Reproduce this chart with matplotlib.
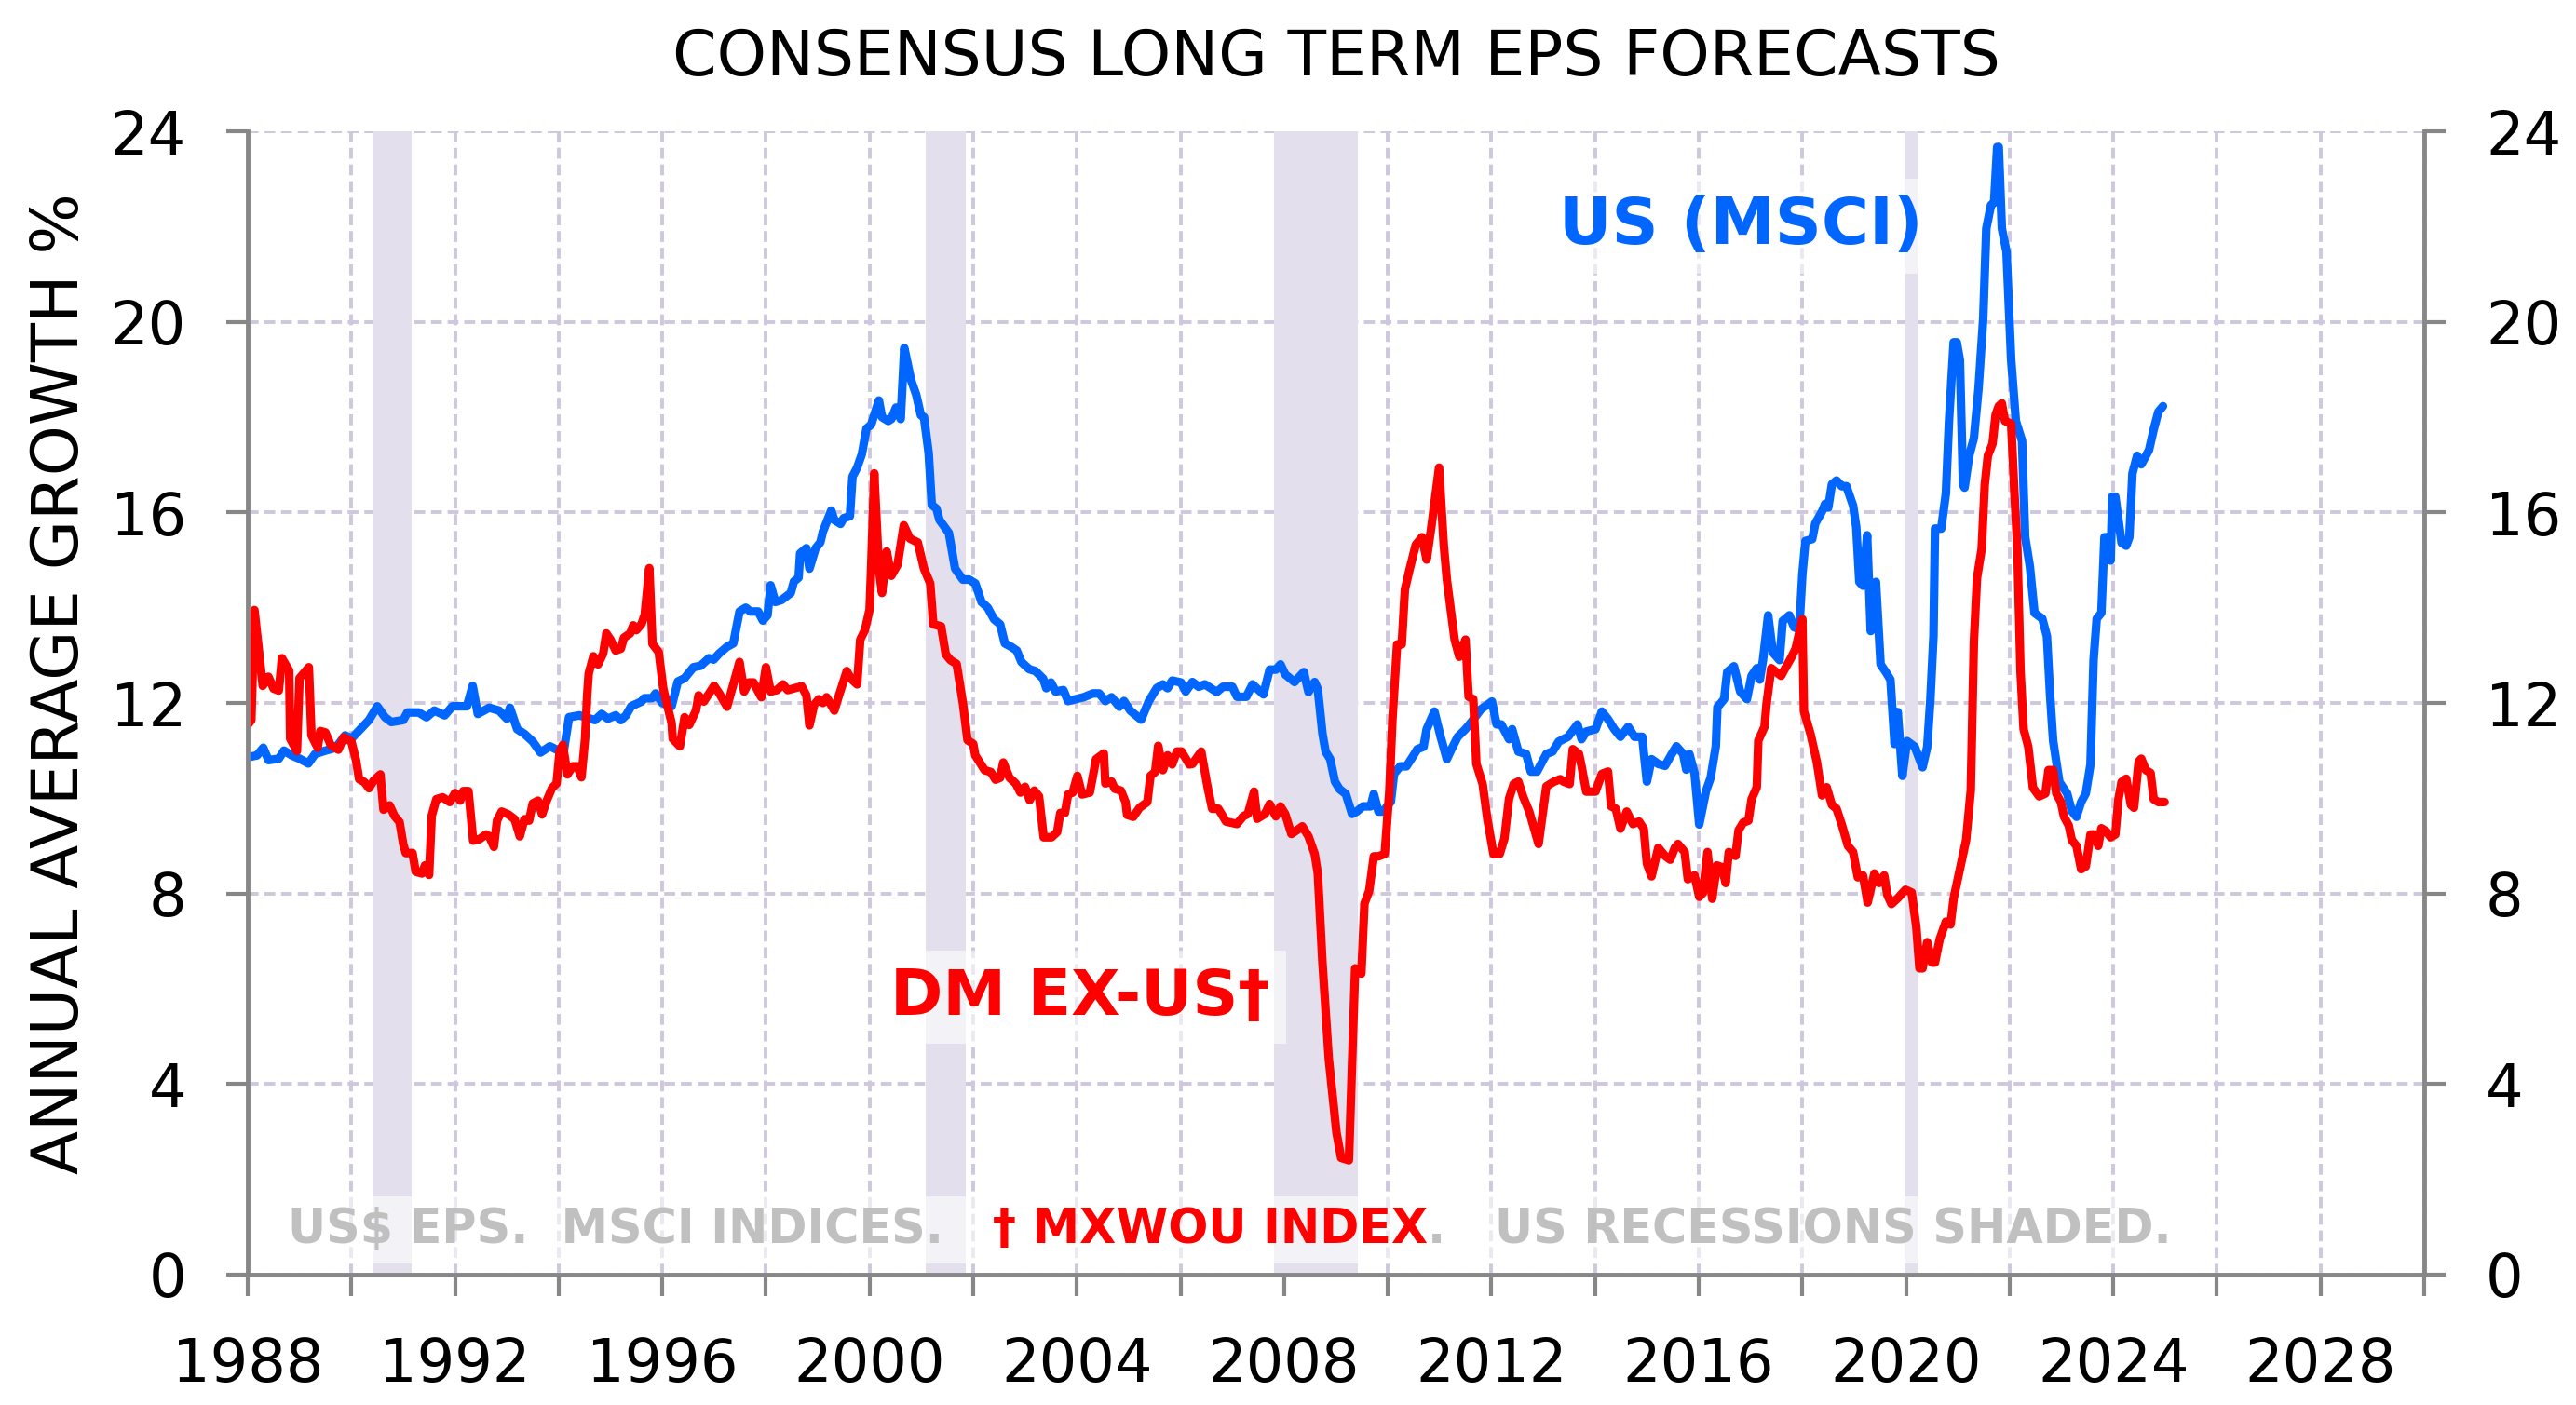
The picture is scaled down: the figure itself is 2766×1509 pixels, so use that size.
import matplotlib
matplotlib.use("Agg")
import matplotlib.pyplot as plt
from matplotlib.patches import Rectangle
from matplotlib.transforms import Bbox

plt.rcParams['font.family'] = ['DejaVu Sans']

# ---------------- data (decimal year, % growth) ----------------
us_year = [1988.0, 1988.18, 1988.3, 1988.4, 1988.6, 1988.7, 1988.85, 1989.0, 1989.17, 1989.3, 1989.5, 1989.7,
           1989.88, 1990.0, 1990.34, 1990.5, 1990.65, 1990.77, 1991.0, 1991.08, 1991.3, 1991.45, 1991.6, 1991.8,
           1991.95, 1992.23, 1992.34, 1992.44, 1992.66, 1992.85, 1993.0, 1993.06, 1993.2, 1993.34, 1993.5, 1993.65,
           1993.83, 1994.0, 1994.1, 1994.2, 1994.4, 1994.7, 1994.83, 1994.95, 1995.1, 1995.2, 1995.3, 1995.4,
           1995.6, 1995.65, 1995.8, 1995.87, 1996.0, 1996.18, 1996.3, 1996.43, 1996.6, 1996.74, 1996.9, 1996.99,
           1997.1,
           1997.25, 1997.37, 1997.49, 1997.61, 1997.7, 1997.85, 1997.94, 1998.03, 1998.09, 1998.18, 1998.3, 1998.48,
           1998.54, 1998.63, 1998.66, 1998.78, 1998.84, 1998.96, 1999.05, 1999.1, 1999.26, 1999.32, 1999.44, 1999.5,
           1999.62, 1999.67, 1999.76, 1999.85, 1999.94, 2000.03, 2000.18, 2000.24, 2000.36, 2000.42, 2000.51, 2000.6,
           2000.67, 2000.8, 2000.9, 2000.99, 2001.05, 2001.14, 2001.2, 2001.29, 2001.35, 2001.53, 2001.65, 2001.8,
           2001.92, 2002.04, 2002.16, 2002.28, 2002.4, 2002.52, 2002.61, 2002.73, 2002.84, 2002.93, 2003.08, 2003.2,
           2003.35, 2003.41, 2003.5, 2003.59, 2003.74, 2003.83, 2004.13, 2004.31, 2004.43, 2004.55, 2004.67, 2004.82,
           2004.91, 2005.03, 2005.24, 2005.39, 2005.54, 2005.66, 2005.75, 2005.84, 2006.01, 2006.1,
           2006.23, 2006.35, 2006.47, 2006.7, 2006.82, 2007.0, 2007.09, 2007.27, 2007.39, 2007.6, 2007.72, 2007.84,
           2007.93, 2008.02, 2008.2, 2008.38, 2008.47, 2008.59, 2008.65, 2008.74, 2008.8, 2008.89, 2008.98, 2009.07,
           2009.19, 2009.31, 2009.4, 2009.52, 2009.67, 2009.73, 2009.82, 2009.91, 2010.06, 2010.12, 2010.24, 2010.36,
           2010.48, 2010.57, 2010.69, 2010.75, 2010.9, 2011.02, 2011.14, 2011.23, 2011.35, 2011.5, 2011.62, 2011.8,
           2012.01, 2012.1, 2012.19, 2012.34, 2012.4, 2012.52, 2012.67, 2012.76, 2012.88, 2013.06, 2013.18, 2013.3,
           2013.48, 2013.66, 2013.74, 2013.83, 2014.01, 2014.13, 2014.25, 2014.37, 2014.49, 2014.64, 2014.76, 2014.91,
           2015.0, 2015.09,
           2015.22, 2015.35, 2015.48, 2015.57, 2015.7, 2015.76, 2015.82, 2015.92, 2016.01, 2016.14, 2016.23, 2016.33,
           2016.36, 2016.49, 2016.55, 2016.68, 2016.8, 2016.93, 2017.02, 2017.12, 2017.18, 2017.24, 2017.34, 2017.43,
           2017.56, 2017.62, 2017.75, 2017.84, 2017.94, 2018.0, 2018.06, 2018.19, 2018.25, 2018.38, 2018.44, 2018.5,
           2018.57, 2018.66, 2018.76, 2018.85, 2018.98, 2019.04, 2019.1, 2019.17, 2019.25, 2019.32, 2019.42, 2019.51,
           2019.61, 2019.7,
           2019.78, 2019.84, 2019.93, 2020.02, 2020.17, 2020.32, 2020.41, 2020.47, 2020.53, 2020.56, 2020.68, 2020.77,
           2020.83, 2020.92, 2020.98, 2021.04, 2021.1, 2021.13, 2021.22, 2021.31, 2021.4, 2021.49, 2021.55, 2021.64,
           2021.7, 2021.76, 2021.79, 2021.85, 2021.94, 2022.03, 2022.12, 2022.24, 2022.3, 2022.39, 2022.48, 2022.63,
           2022.72, 2022.78, 2022.84, 2022.96, 2023.11, 2023.2, 2023.29, 2023.38, 2023.47, 2023.56, 2023.62, 2023.68,
           2023.77, 2023.83, 2023.92, 2023.95, 2023.98, 2024.04, 2024.16, 2024.25, 2024.31, 2024.37, 2024.46, 2024.54,
           2024.69, 2024.78, 2024.87, 2024.96]
us_val = [10.86, 10.9, 11.06, 10.8, 10.83, 11.0, 10.9, 10.83, 10.73, 10.93, 11.0, 11.06,
          11.32, 11.25, 11.64, 11.93, 11.7, 11.6, 11.64, 11.8, 11.8, 11.7, 11.84, 11.74,
          11.93, 11.93, 12.36, 11.77, 11.9, 11.84, 11.67, 11.9, 11.45, 11.35, 11.19, 10.96,
          11.09, 11.0, 11.0, 11.7, 11.74, 11.64, 11.77, 11.67, 11.74, 11.64, 11.74, 11.93,
          12.03, 12.1, 12.1, 12.2, 12.0, 11.93, 12.45, 12.52, 12.75, 12.78, 12.94, 12.91,
          13.04,
          13.18, 13.25, 13.92, 14.0, 13.92, 13.92, 13.73, 13.84, 14.47, 14.12, 14.16, 14.31,
          14.55, 14.63, 15.14, 15.25, 14.82, 15.25, 15.37, 15.6, 16.04, 15.84, 15.76, 15.88,
          15.92, 16.75, 16.94, 17.22, 17.76, 17.84, 18.35, 18.0, 17.92, 17.96, 18.2, 17.96,
          19.45, 18.78, 18.47, 18.04, 18.0, 17.25, 16.16, 16.08, 15.84, 15.57, 14.82, 14.59,
          14.59, 14.51, 14.12, 14.0, 13.76, 13.65, 13.25, 13.18, 13.1, 12.86, 12.71, 12.67,
          12.51, 12.31, 12.43, 12.24, 12.27, 12.04, 12.12, 12.2, 12.2, 12.04, 12.12, 11.92,
          12.04, 11.84, 11.65, 12.04, 12.31, 12.39, 12.31, 12.47, 12.43, 12.24,
          12.44, 12.34, 12.39, 12.23, 12.34, 12.34, 12.13, 12.13, 12.39, 12.18, 12.7, 12.7,
          12.81, 12.6, 12.44, 12.65, 12.23, 12.44, 12.29, 11.35, 10.98, 10.82, 10.35, 10.19,
          10.09, 9.67, 9.72, 9.83, 9.83, 10.09, 9.72, 9.72, 9.93, 10.51, 10.67, 10.67,
          10.87, 11.03, 11.08, 11.45, 11.82, 11.29, 10.82, 11.03, 11.29, 11.45, 11.61, 11.87,
          12.03, 11.55, 11.55, 11.24, 11.45, 10.98, 10.93, 10.56, 10.56, 10.93, 10.98, 11.19,
          11.29, 11.55, 11.24, 11.4, 11.45, 11.82, 11.66, 11.45, 11.29, 11.5, 11.29, 11.29,
          10.35, 10.82,
          10.72, 10.68, 10.93, 11.09, 10.93, 10.6, 10.93, 10.52, 9.45, 10.15, 10.43, 11.09,
          11.91, 12.08, 12.65, 12.77, 12.24, 12.08, 12.57, 12.73, 12.49, 12.9, 13.84, 13.06,
          12.9, 13.72, 13.84, 13.59, 13.55, 14.7, 15.4, 15.44, 15.77, 16.02, 16.18, 16.1,
          16.59, 16.67, 16.55, 16.55, 16.14, 15.69, 14.54, 14.46, 15.52, 13.51, 14.54, 12.81,
          12.65, 12.49,
          11.14, 11.81, 10.47, 11.2, 11.08, 10.65, 11.08, 12.06, 13.4, 15.66, 15.66, 16.4,
          17.92, 19.57, 19.57, 19.2, 16.58, 16.52, 17.19, 17.56, 18.6, 20.06, 21.96, 22.45,
          22.5, 23.67, 23.67, 21.96, 21.47, 19.2, 17.92, 17.5, 15.48, 14.87, 13.89, 13.77,
          13.4, 12.18, 11.2, 10.34, 10.1, 9.73, 9.61, 9.92, 10.1, 10.71, 12.91, 13.77,
          13.89, 15.48, 15.48, 14.99, 16.33, 16.33, 15.36, 15.3, 15.48, 16.82, 17.19, 17.01,
          17.31, 17.74, 18.11, 18.23]

dm_year = [1988.0, 1988.07, 1988.13, 1988.29, 1988.4, 1988.5, 1988.6, 1988.66, 1988.8, 1988.82, 1988.95, 1989.0,
           1989.18, 1989.23, 1989.35, 1989.4, 1989.5, 1989.6, 1989.75, 1989.85, 1990.0, 1990.09, 1990.15, 1990.25,
           1990.34, 1990.43, 1990.56, 1990.62, 1990.74, 1990.83, 1990.93, 1991.0, 1991.05, 1991.18, 1991.24, 1991.36,
           1991.42, 1991.5, 1991.55, 1991.64, 1991.76, 1991.9, 1992.0, 1992.1, 1992.16, 1992.26, 1992.35, 1992.47,
           1992.6, 1992.66, 1992.75, 1992.81, 1992.9, 1993.03, 1993.15, 1993.25, 1993.34, 1993.43, 1993.5, 1993.6,
           1993.68, 1993.77, 1993.87, 1993.96, 1994.02, 1994.08, 1994.17, 1994.27, 1994.36, 1994.44, 1994.51, 1994.55,
           1994.58, 1994.67, 1994.76, 1994.86, 1994.92, 1995.0, 1995.1, 1995.2, 1995.26, 1995.38, 1995.44, 1995.5,
           1995.6, 1995.66, 1995.75, 1995.81, 1995.93, 1996.02, 1996.18, 1996.2, 1996.34, 1996.43, 1996.52, 1996.65,
           1996.7, 1996.8, 1997.0, 1997.1,
           1997.25, 1997.37, 1997.49, 1997.58, 1997.67, 1997.76, 1997.91, 1998.0, 1998.09, 1998.21, 1998.33, 1998.42,
           1998.69, 1998.78, 1998.84, 1998.93, 1999.02, 1999.1, 1999.17, 1999.32, 1999.41, 1999.56, 1999.64, 1999.76,
           1999.82, 1999.91, 2000.0, 2000.03, 2000.09, 2000.18, 2000.24, 2000.33, 2000.42, 2000.54, 2000.66, 2000.78,
           2000.93, 2001.05, 2001.17, 2001.23, 2001.38, 2001.47, 2001.56, 2001.68, 2001.8, 2001.89, 2002.0, 2002.04,
           2002.22, 2002.34, 2002.43, 2002.52, 2002.58, 2002.7, 2002.82, 2002.91, 2003.0, 2003.09, 2003.18, 2003.27,
           2003.36, 2003.51, 2003.62, 2003.68, 2003.77, 2003.83, 2003.92, 2004.01, 2004.1, 2004.25, 2004.37, 2004.52,
           2004.55, 2004.67, 2004.73, 2004.85, 2004.94, 2004.97, 2005.09, 2005.21, 2005.36, 2005.42, 2005.51, 2005.57,
           2005.66, 2005.75, 2005.84, 2005.93, 2006.02, 2006.17,
           2006.23, 2006.4, 2006.52, 2006.61, 2006.73, 2006.88, 2007.09, 2007.21, 2007.3, 2007.42, 2007.48, 2007.63,
           2007.72, 2007.84, 2007.93, 2008.02, 2008.14, 2008.29, 2008.35, 2008.47, 2008.59, 2008.65, 2008.74, 2008.86,
           2009.01, 2009.1, 2009.25, 2009.37, 2009.49, 2009.55, 2009.64, 2009.73, 2009.82, 2009.94, 2010.03, 2010.09,
           2010.18, 2010.27, 2010.33, 2010.42, 2010.54, 2010.66, 2010.75, 2010.84, 2010.99, 2011.08, 2011.14, 2011.29,
           2011.38, 2011.5, 2011.56, 2011.65, 2011.71, 2011.83, 2011.92, 2012.04, 2012.16, 2012.25, 2012.34, 2012.43,
           2012.52, 2012.61, 2012.73, 2012.91, 2013.06, 2013.21, 2013.33, 2013.39, 2013.51, 2013.57, 2013.69, 2013.74,
           2013.83, 2014.01, 2014.13, 2014.25, 2014.31, 2014.4, 2014.49, 2014.61, 2014.73, 2014.85, 2014.94, 2015.0,
           2015.09,
           2015.22, 2015.35, 2015.45, 2015.54, 2015.6, 2015.73, 2015.79, 2015.92, 2016.01, 2016.08, 2016.17, 2016.26,
           2016.35, 2016.45, 2016.52, 2016.58, 2016.71, 2016.77, 2016.86, 2016.96, 2017.02, 2017.12, 2017.15, 2017.27,
           2017.31, 2017.4, 2017.59, 2017.65, 2017.78, 2017.87, 2018.0, 2018.03, 2018.16, 2018.28, 2018.38, 2018.47,
           2018.57, 2018.66, 2018.76, 2018.88, 2018.98, 2019.07, 2019.17, 2019.26, 2019.39, 2019.48, 2019.58, 2019.64,
           2019.72, 2019.84, 2019.99, 2020.11, 2020.2, 2020.26, 2020.32, 2020.41, 2020.5, 2020.56, 2020.65, 2020.77,
           2020.86, 2020.92, 2021.04, 2021.16, 2021.25, 2021.31, 2021.37, 2021.46, 2021.52, 2021.58, 2021.67, 2021.73,
           2021.79, 2021.85, 2021.91, 2022.03, 2022.09, 2022.15, 2022.21, 2022.27, 2022.36, 2022.45, 2022.57, 2022.69,
           2022.75, 2022.84, 2022.9, 2022.99, 2023.05, 2023.14, 2023.2, 2023.29, 2023.38, 2023.47, 2023.56, 2023.65,
           2023.71, 2023.77, 2023.86, 2023.95, 2024.04, 2024.1, 2024.16, 2024.25, 2024.34, 2024.4, 2024.49, 2024.54,
           2024.63, 2024.72, 2024.78, 2024.87, 2024.99]
dm_val = [11.54, 11.64, 13.95, 12.36, 12.55, 12.3, 12.26, 12.94, 12.68, 11.25, 10.99, 12.52,
          12.75, 11.32, 11.06, 11.41, 11.38, 11.12, 11.02, 11.28, 11.19, 10.8, 10.4, 10.34,
          10.21, 10.37, 10.5, 9.76, 9.85, 9.63, 9.5, 9.04, 8.85, 8.85, 8.46, 8.42,
          8.59, 8.39, 9.63, 9.98, 10.02, 9.92, 10.11, 9.95, 10.15, 10.15, 9.11, 9.14,
          9.24, 9.2, 8.98, 9.53, 9.72, 9.66, 9.56, 9.2, 9.56, 9.53, 9.89, 9.95,
          9.66, 9.95, 10.21, 10.31, 10.99, 11.12, 10.5, 10.67, 10.67, 10.44, 11.25, 12.16,
          12.62, 12.98, 12.81, 13.04, 13.46, 13.33, 13.1, 13.14, 13.37, 13.46, 13.63, 13.53,
          13.66, 13.85, 14.83, 13.24, 13.07, 12.29, 11.58, 11.25, 11.09, 11.7, 11.54, 11.84,
          12.16, 12.03, 12.36, 12.2,
          11.92, 12.39, 12.86, 12.24, 12.43, 12.43, 12.12, 12.75, 12.24, 12.27, 12.39, 12.27,
          12.35, 12.16, 11.53, 11.96, 12.08, 12.0, 12.12, 11.84, 12.16, 12.67, 12.51, 12.39,
          13.33, 13.53, 13.96, 14.82, 16.82, 14.82, 14.31, 15.18, 14.67, 14.9, 15.73, 15.45,
          15.37, 14.82, 14.51, 13.65, 13.61, 13.02, 12.9, 12.82, 12.0, 11.22, 11.14, 10.9,
          10.59, 10.55, 10.39, 10.43, 10.75, 10.43, 10.31, 10.12, 10.24, 9.96, 10.16, 10.04,
          9.18, 9.18, 9.29, 9.69, 9.69, 10.08, 10.12, 10.47, 10.08, 10.12, 10.82, 10.94,
          10.31, 10.35, 10.2, 10.16, 9.92, 9.65, 9.61, 9.8, 9.92, 10.47, 10.55, 11.1,
          10.59, 10.9, 10.71, 10.98, 10.98, 10.71,
          10.72, 10.98, 10.25, 9.78, 9.78, 9.51, 9.46, 9.62, 9.67, 10.14, 9.57, 9.67,
          9.88, 9.62, 9.83, 9.67, 9.25, 9.36, 9.41, 9.2, 8.83, 8.42, 6.53, 4.55,
          2.98, 2.45, 2.4, 6.43, 6.32, 7.79, 8.05, 8.78, 8.78, 8.83, 10.14, 11.66,
          13.23, 13.23, 14.38, 14.8, 15.32, 15.48, 15.01, 15.69, 16.94, 15.32, 14.59, 13.33,
          12.97, 13.33, 12.13, 12.08, 10.72, 10.3, 9.57, 8.83, 8.83, 9.15, 9.99, 10.3,
          10.35, 10.04, 9.72, 9.04, 10.25, 10.35, 10.4, 10.35, 10.3, 11.03, 10.93, 10.67,
          10.14, 10.14, 10.51, 10.56, 9.83, 9.78, 9.36, 9.72, 9.46, 9.51, 9.36, 8.63,
          8.36,
          8.96, 8.79, 8.71, 8.96, 9.04, 8.87, 8.3, 8.38, 7.93, 8.01, 8.87, 7.89,
          8.59, 8.55, 8.22, 8.87, 8.79, 9.33, 9.49, 9.53, 9.98, 10.23, 11.21, 11.5,
          11.99, 12.73, 12.57, 12.69, 12.94, 13.14, 13.76, 11.83, 11.34, 10.76, 10.06, 10.23,
          9.86, 9.78, 9.45, 9.0, 8.87, 8.34, 8.38, 7.81, 8.42, 8.22, 8.38, 7.97,
          7.78, 7.9, 8.08, 8.02, 7.29, 6.43, 6.43, 6.98, 6.55, 6.55, 7.04, 7.41,
          7.35, 7.9, 8.51, 9.12, 10.16, 13.28, 14.62, 15.23, 16.58, 17.19, 17.44, 18.05,
          18.23, 18.29, 17.92, 17.86, 16.46, 15.23, 12.67, 11.45, 11.08, 10.22, 10.04, 10.1,
          10.59, 10.59, 10.1, 9.92, 9.61, 9.43, 9.12, 9.0, 8.51, 8.57, 9.24, 9.24,
          9.0, 9.37, 9.31, 9.18, 9.24, 9.98, 10.34, 10.41, 9.86, 9.8, 10.77, 10.83,
          10.59, 10.53, 9.98, 9.92, 9.92]

rec_start = [1990.40, 2001.08, 2007.81, 2019.98]
rec_end = [1991.17, 2001.85, 2009.43, 2020.23]

x_ticks = list(range(1988, 2031, 2))
x_labels = [str(y) if (y % 4 == 0 and y < 2030) else '' for y in x_ticks]
y_ticks = [0, 4, 8, 12, 16, 20, 24]

title = 'CONSENSUS LONG TERM EPS FORECASTS'
ylabel = 'ANNUAL AVERAGE GROWTH %'
us_label = 'US (MSCI)'
dm_label = 'DM EX-US\u2020'
note_a = 'US$ EPS.  MSCI INDICES.'
note_b = '   \u2020 MXWOU INDEX'
note_c = '.   US RECESSIONS SHADED.'

# ---------------- styling ----------------
W, H = 2766, 1509
BLUE = '#0066ff'
RED = '#ff0000'
AXIS_GRAY = '#878787'
GRID = '#cfc7de'
SHADE = '#e3dfec'
NOTE_GRAY = '#c0c0c0'

fig = plt.figure(figsize=(W / 100, H / 100), dpi=100)
ax = fig.add_axes([266 / W, 1 - 1369 / H, (2603 - 266) / W, (1369 - 141) / H])

ax.set_xlim(1988, 2030)
ax.set_ylim(0, 24)

ax.set_axisbelow(True)
ax.grid(True, color=GRID, linestyle=(0, (3.0, 1.6)), linewidth=2.8)

for s, e in zip(rec_start, rec_end):
    ax.axvspan(s, e, color=SHADE, lw=0, zorder=1)

ax.plot(us_year, us_val, color=BLUE, lw=6.6, solid_joinstyle='round', solid_capstyle='round', zorder=3)
ax.plot(dm_year, dm_val, color=RED, lw=6.6, solid_joinstyle='round', solid_capstyle='round', zorder=4)

ax.set_xticks(x_ticks)
ax.set_xticklabels(x_labels)
ax.set_yticks(y_ticks)
ax.set_yticklabels([str(v) for v in y_ticks])

for side in ['left', 'right', 'bottom']:
    ax.spines[side].set_color(AXIS_GRAY)
    ax.spines[side].set_linewidth(3.5)
    ax.spines[side].set_zorder(5)
ax.spines['top'].set_visible(False)

ax.tick_params(axis='both', direction='out', length=16.5, width=3, color=AXIS_GRAY,
               labelsize=46, pad=31, labelcolor='black')
ax.tick_params(axis='y', left=True, right=True, labelleft=True, labelright=True)

fig.text(1434.5 / W, 1 - 62 / H, title, ha='center', va='center', fontsize=49, color='black')
fig.text(65 / W, 1 - 734 / H, ylabel, rotation=90, ha='center', va='center', fontsize=49.5, color='black')

box = dict(boxstyle='square,pad=0.25', fc='white', ec='none', alpha=0.6)
ax.text(0.686, 0.917, us_label, transform=ax.transAxes, ha='center', va='center', fontsize=50,
        fontweight='bold', color=BLUE, bbox=box, zorder=6)
ax.text(0.3825, 0.2427, dm_label, transform=ax.transAxes, ha='center', va='center', fontsize=49,
        fontweight='bold', color=RED, bbox=box, zorder=6)

note_kw = dict(fontsize=36.5, fontweight='bold', zorder=7)
t1 = ax.text(0.0184, 0.039, note_a, transform=ax.transAxes, ha='left', va='center', color=NOTE_GRAY, **note_kw)
t2 = ax.annotate(note_b, xy=(1, 0), xycoords=t1, ha='left', va='bottom', color=RED, **note_kw)
t3 = ax.annotate(note_c, xy=(1, 0), xycoords=t2, ha='left', va='bottom', color=NOTE_GRAY, **note_kw)

fig.canvas.draw()
r = fig.canvas.get_renderer()
bb = Bbox.union([t.get_window_extent(r) for t in (t1, t2, t3)])
yc = (bb.y0 + bb.y1) / 2
disp = Bbox.from_extents(bb.x0 - 14, yc - 36, bb.x1 + 14, yc + 36)
axb = disp.transformed(ax.transAxes.inverted())
ax.add_patch(Rectangle((axb.x0, axb.y0), axb.width, axb.height, transform=ax.transAxes,
                       fc='white', ec='none', alpha=0.6, zorder=6))

fig.savefig('out.png', dpi=100)
